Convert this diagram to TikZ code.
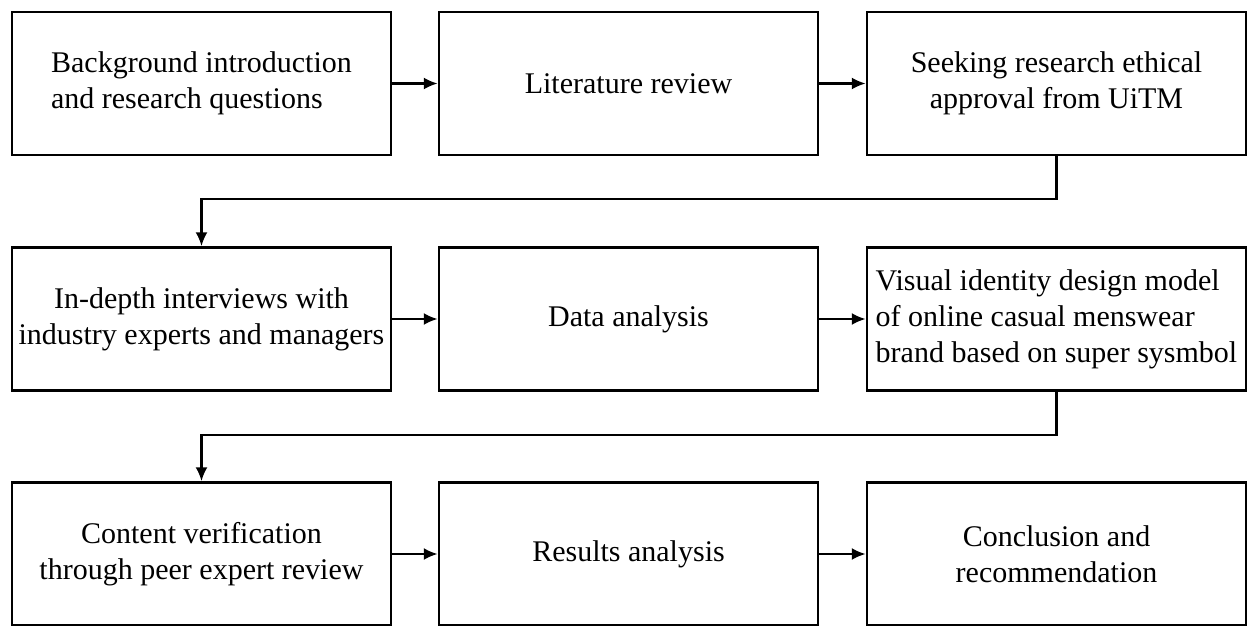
\documentclass[tikz,border=0pt]{standalone}
\usepackage{fontspec}
\setmainfont{Liberation Serif}
\usetikzlibrary{arrows.meta}

\begin{document}
\begin{tikzpicture}[x=0.5pt,y=-0.5pt,
        box/.style={draw, line width=1.2pt, minimum width=189.5pt, minimum height=71.5pt,
                inner sep=0pt, align=center, font=\fontsize{15}{18}\selectfont},
        flow/.style={line width=1.2pt, -{Latex[length=7pt,width=6pt]}}]
        \useasboundingbox (0,0) rectangle (1248,626);
        \node (b1) [box, align=left] at (201.5, 83.5) {Background introduction\\and research questions};
        \node (b2) [box] at (628.5, 83.5) {Literature review};
        \node (b3) [box] at (1056.5, 83.5) {Seeking research ethical\\approval from UiTM};
        \node (b4) [box] at (201.5, 319) {In-depth interviews with\\industry experts and managers};
        \node (b5) [box] at (628.5, 319) {Data analysis};
        \node (b6) [box, align=left] at (1056.5, 319) {Visual identity design model\\of online casual menswear\\brand based on super sysmbol};
        \node (b7) [box] at (201.5, 554) {Content verification\\through peer expert review};
        \node (b8) [box] at (628.5, 554) {Results analysis};
        \node (b9) [box] at (1056.5, 554) {Conclusion and\\recommendation};
        \coordinate (t1) at (1056.5, 199);
        \coordinate (t2) at (1056.5, 435);
        \draw [flow] (b1) -- (b2);
        \draw [flow] (b2) -- (b3);
        \draw [flow] (b3) -- (t1) -| (b4);
        \draw [flow] (b4) -- (b5);
        \draw [flow] (b5) -- (b6);
        \draw [flow] (b6) -- (t2) -| (b7);
        \draw [flow] (b7) -- (b8);
        \draw [flow] (b8) -- (b9);
\end{tikzpicture}
\end{document}
